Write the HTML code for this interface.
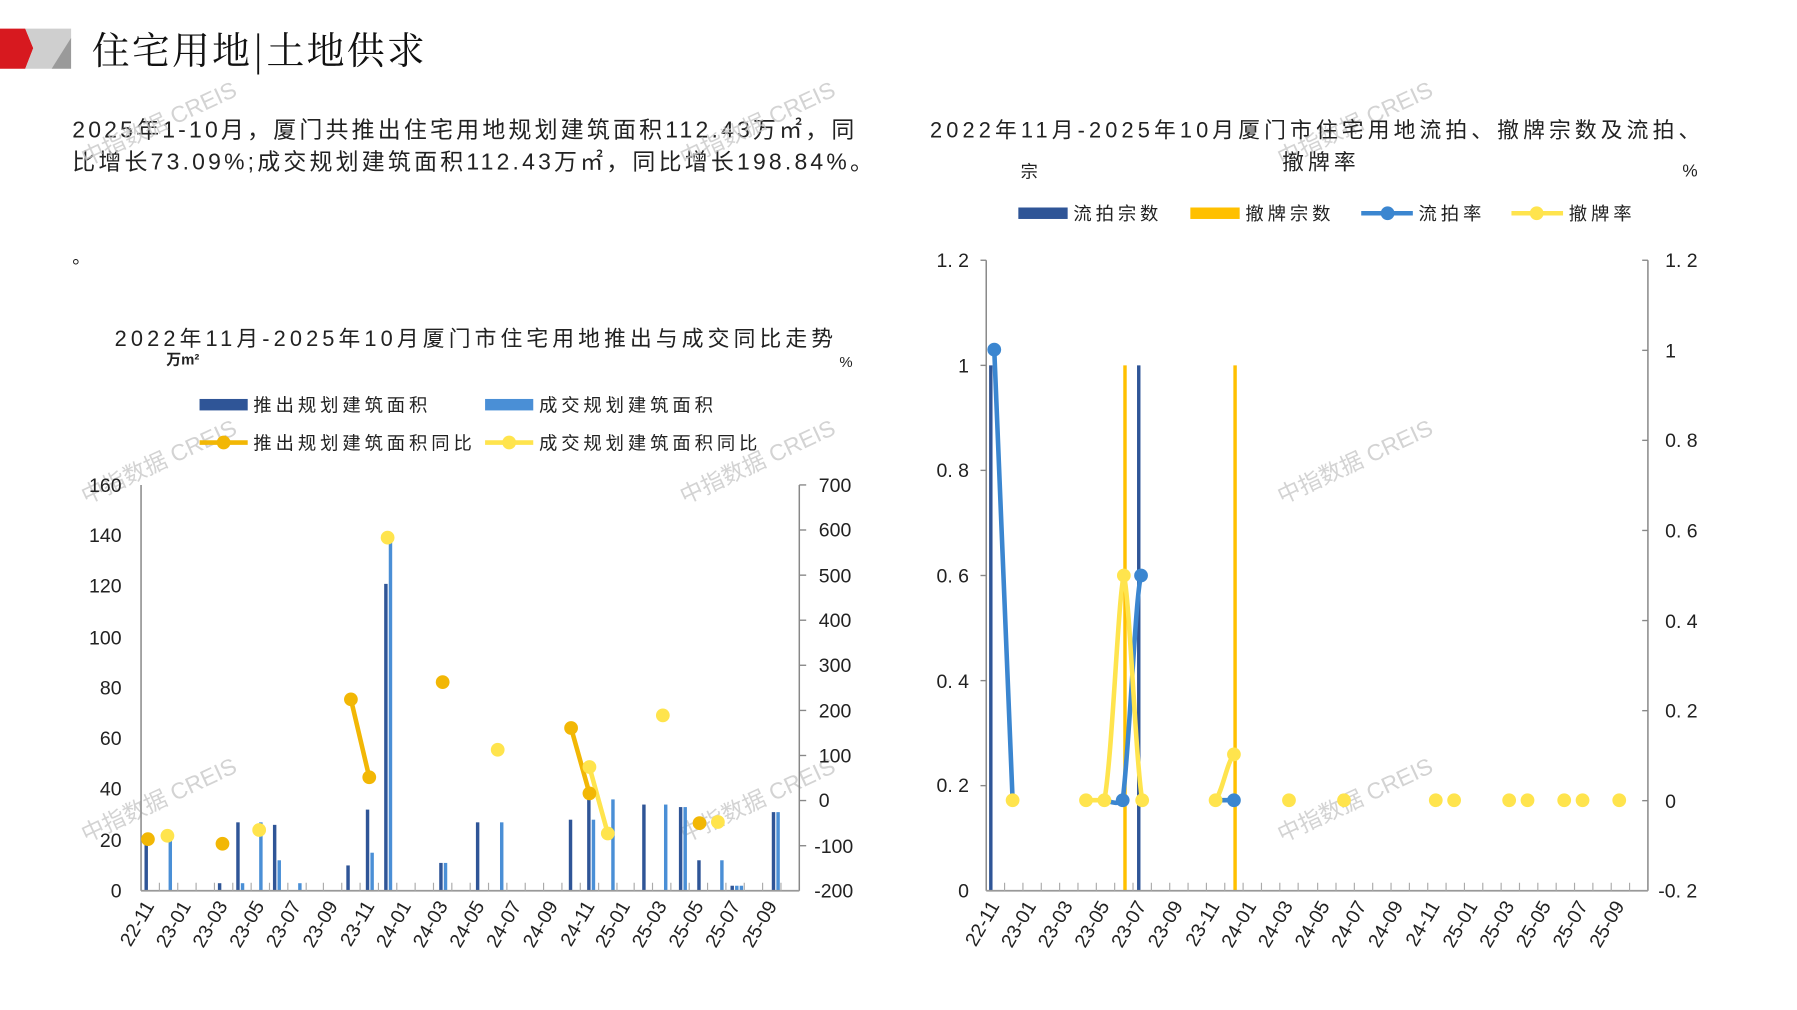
<!DOCTYPE html>
<html><head><meta charset="utf-8"><style>
html,body{margin:0;padding:0;background:#fff;}
svg{display:block;}
text{font-family:"Liberation Sans","Noto Sans CJK SC",sans-serif;}
.ls{letter-spacing:3.4px;}
</style></head><body>
<svg width="1797" height="1010" viewBox="0 0 1567 881" preserveAspectRatio="none" xmlns="http://www.w3.org/2000/svg">
<rect width="1567" height="881" fill="#fff"/>
<polygon points="0,25 22,25 29,42 22,60 0,60" fill="#D7191F"/>
<polygon points="22,25 62,25 62,35 45,60 22,60 29,42" fill="#CFCFCF"/>
<polygon points="62,33 62,60 45,60" fill="#9A9A9A"/>
<text x="80" y="56" font-size="33" fill="#111" style="font-family:'Noto Serif CJK SC',serif;letter-spacing:2px">住宅用地|土地供求</text>
<text x="63" y="120" font-size="20" fill="#222" style="letter-spacing:2.8px">2025年1-10月，厦门共推出住宅用地规划建筑面积112.43万㎡，同</text>
<text x="63" y="148" font-size="20" fill="#222" style="letter-spacing:2.8px">比增长73.09%;成交规划建筑面积112.43万㎡，同比增长198.84%。</text>
<text x="63" y="230" font-size="16" fill="#222">。</text>

<g fill="#c8c8c8" font-size="20" opacity="0.8">
<text transform="translate(75,145) rotate(-25)">中指数据 CREIS</text>
<text transform="translate(597,145) rotate(-25)">中指数据 CREIS</text>
<text transform="translate(1118,145) rotate(-25)">中指数据 CREIS</text>
<text transform="translate(75,440) rotate(-25)">中指数据 CREIS</text>
<text transform="translate(597,440) rotate(-25)">中指数据 CREIS</text>
<text transform="translate(1118,440) rotate(-25)">中指数据 CREIS</text>
<text transform="translate(75,735) rotate(-25)">中指数据 CREIS</text>
<text transform="translate(597,735) rotate(-25)">中指数据 CREIS</text>
<text transform="translate(1118,735) rotate(-25)">中指数据 CREIS</text>
</g>

<text x="415" y="302" font-size="19" fill="#222" text-anchor="middle" style="letter-spacing:3.6px">2022年11月-2025年10月厦门市住宅用地推出与成交同比走势</text>
<text x="145" y="318" font-size="13" fill="#222" font-weight="bold">万m²</text>
<text x="732" y="320" font-size="13" fill="#222">%</text>
<rect x="174" y="348" width="42" height="10" fill="#2F5597"/>
<text x="221" y="359" font-size="16" fill="#222" class="ls">推出规划建筑面积</text>
<rect x="423" y="348" width="42" height="10" fill="#4A8FD6"/>
<text x="470" y="359" font-size="16" fill="#222" class="ls">成交规划建筑面积</text>
<line x1="174" y1="386" x2="216" y2="386" stroke="#F2B705" stroke-width="4"/><circle cx="195" cy="386" r="6" fill="#F2B705"/>
<text x="221" y="392" font-size="16" fill="#222" class="ls">推出规划建筑面积同比</text>
<line x1="423" y1="386" x2="465" y2="386" stroke="#FFE44D" stroke-width="4"/><circle cx="444" cy="386" r="6" fill="#FFE44D"/>
<text x="470" y="392" font-size="16" fill="#222" class="ls">成交规划建筑面积同比</text>

<g font-size="17" fill="#222" text-anchor="end">
<text x="106" y="429">160</text><text x="106" y="473">140</text><text x="106" y="517">120</text><text x="106" y="562">100</text><text x="106" y="606">80</text><text x="106" y="650">60</text><text x="106" y="694">40</text><text x="106" y="739">20</text><text x="106" y="783">0</text>
</g>
<g font-size="17" fill="#222">
<text x="714" y="429">700</text><text x="714" y="468">600</text><text x="714" y="508">500</text><text x="714" y="547">400</text><text x="714" y="586">300</text><text x="714" y="626">200</text><text x="714" y="665">100</text><text x="714" y="704">0</text><text x="710" y="744">-100</text><text x="710" y="783">-200</text>
</g>
<line x1="123" y1="423" x2="123" y2="777" stroke="#888" stroke-width="1.3"/>
<line x1="697" y1="423" x2="697" y2="777" stroke="#888" stroke-width="1.3"/>
<g stroke="#888" stroke-width="1.2">
<line x1="697" y1="423" x2="703" y2="423"/><line x1="697" y1="462.3" x2="703" y2="462.3"/><line x1="697" y1="501.7" x2="703" y2="501.7"/><line x1="697" y1="541" x2="703" y2="541"/><line x1="697" y1="580.3" x2="703" y2="580.3"/><line x1="697" y1="619.7" x2="703" y2="619.7"/><line x1="697" y1="659" x2="703" y2="659"/><line x1="697" y1="698.3" x2="703" y2="698.3"/><line x1="697" y1="737.7" x2="703" y2="737.7"/>
</g>
<g fill="#2F5597">
<rect x="126" y="732.7" width="3" height="44.3"/><rect x="190" y="770.4" width="3" height="6.6"/><rect x="206" y="717.3" width="3" height="59.7"/><rect x="238" y="719.5" width="3" height="57.5"/><rect x="302" y="754.9" width="3" height="22.1"/><rect x="319" y="706.2" width="3" height="70.8"/><rect x="335" y="509.3" width="3" height="267.7"/><rect x="383" y="752.7" width="3" height="24.3"/><rect x="415" y="717.3" width="3" height="59.7"/><rect x="496" y="715" width="3" height="62"/><rect x="512" y="695" width="3" height="82"/><rect x="560" y="701.8" width="3" height="75.2"/><rect x="592" y="704" width="3" height="73"/><rect x="608" y="750.4" width="3" height="26.6"/><rect x="637" y="772.6" width="3" height="4.4"/><rect x="673" y="708.4" width="3" height="68.6"/>
</g>
<g fill="#4A8FD6">
<rect x="147" y="732.7" width="3" height="44.3"/><rect x="210" y="770.4" width="3" height="6.6"/><rect x="226" y="717.3" width="3" height="59.7"/><rect x="242" y="750.4" width="3" height="26.6"/><rect x="260" y="770.4" width="3" height="6.6"/><rect x="323" y="743.8" width="3" height="33.2"/><rect x="339" y="471.7" width="3" height="305.3"/><rect x="387" y="752.7" width="3" height="24.3"/><rect x="436" y="717.3" width="3" height="59.7"/><rect x="516" y="715" width="3" height="62"/><rect x="533" y="697.3" width="3" height="79.7"/><rect x="579" y="701.8" width="3" height="75.2"/><rect x="596" y="704" width="3" height="73"/><rect x="628" y="750.4" width="3" height="26.6"/><rect x="641" y="772.6" width="3" height="4.4"/><rect x="645" y="772.6" width="3" height="4.4"/><rect x="677" y="708.4" width="3" height="68.6"/>
</g>
<line x1="123" y1="777" x2="697" y2="777" stroke="#999" stroke-width="1.5"/>
<g stroke="#aaa" stroke-width="1">
<line x1="139" y1="770" x2="139" y2="777"/><line x1="155" y1="770" x2="155" y2="777"/><line x1="171" y1="770" x2="171" y2="777"/><line x1="187" y1="770" x2="187" y2="777"/><line x1="203" y1="770" x2="203" y2="777"/><line x1="219" y1="770" x2="219" y2="777"/><line x1="235" y1="770" x2="235" y2="777"/><line x1="251" y1="770" x2="251" y2="777"/><line x1="267" y1="770" x2="267" y2="777"/><line x1="282" y1="770" x2="282" y2="777"/><line x1="298" y1="770" x2="298" y2="777"/><line x1="314" y1="770" x2="314" y2="777"/><line x1="330" y1="770" x2="330" y2="777"/><line x1="346" y1="770" x2="346" y2="777"/><line x1="362" y1="770" x2="362" y2="777"/><line x1="378" y1="770" x2="378" y2="777"/><line x1="394" y1="770" x2="394" y2="777"/><line x1="410" y1="770" x2="410" y2="777"/><line x1="426" y1="770" x2="426" y2="777"/><line x1="442" y1="770" x2="442" y2="777"/><line x1="458" y1="770" x2="458" y2="777"/><line x1="474" y1="770" x2="474" y2="777"/><line x1="490" y1="770" x2="490" y2="777"/><line x1="506" y1="770" x2="506" y2="777"/><line x1="522" y1="770" x2="522" y2="777"/><line x1="538" y1="770" x2="538" y2="777"/><line x1="553" y1="770" x2="553" y2="777"/><line x1="569" y1="770" x2="569" y2="777"/><line x1="585" y1="770" x2="585" y2="777"/><line x1="601" y1="770" x2="601" y2="777"/><line x1="617" y1="770" x2="617" y2="777"/><line x1="633" y1="770" x2="633" y2="777"/><line x1="649" y1="770" x2="649" y2="777"/><line x1="665" y1="770" x2="665" y2="777"/><line x1="681" y1="770" x2="681" y2="777"/>
</g>
<g stroke-linecap="round">
<line x1="306" y1="610" x2="322" y2="678" stroke="#F2B705" stroke-width="4"/>
<line x1="498" y1="635" x2="514" y2="692" stroke="#F2B705" stroke-width="4"/>
<line x1="514" y1="669" x2="530" y2="727" stroke="#FFE44D" stroke-width="4"/>
</g>
<g fill="#F2B705">
<circle cx="129" cy="732" r="6"/><circle cx="194" cy="736" r="6"/><circle cx="306" cy="610" r="6"/><circle cx="322" cy="678" r="6"/><circle cx="386" cy="595" r="6"/><circle cx="498" cy="635" r="6"/><circle cx="514" cy="692" r="6"/><circle cx="610" cy="718" r="6"/>
</g>
<g fill="#FFE44D">
<circle cx="146" cy="729" r="6"/><circle cx="226" cy="724" r="6"/><circle cx="338" cy="469" r="6"/><circle cx="434" cy="654" r="6"/><circle cx="514" cy="669" r="6"/><circle cx="530" cy="727" r="6"/><circle cx="578" cy="624" r="6"/><circle cx="626" cy="717" r="6"/>
</g>
<g font-size="17" fill="#222" text-anchor="end">
<text transform="translate(135,790) rotate(-60)">22-11</text>
<text transform="translate(167,790) rotate(-60)">23-01</text>
<text transform="translate(199,790) rotate(-60)">23-03</text>
<text transform="translate(231,790) rotate(-60)">23-05</text>
<text transform="translate(263,790) rotate(-60)">23-07</text>
<text transform="translate(295,790) rotate(-60)">23-09</text>
<text transform="translate(327,790) rotate(-60)">23-11</text>
<text transform="translate(359,790) rotate(-60)">24-01</text>
<text transform="translate(391,790) rotate(-60)">24-03</text>
<text transform="translate(423,790) rotate(-60)">24-05</text>
<text transform="translate(455,790) rotate(-60)">24-07</text>
<text transform="translate(487,790) rotate(-60)">24-09</text>
<text transform="translate(519,790) rotate(-60)">24-11</text>
<text transform="translate(550,790) rotate(-60)">25-01</text>
<text transform="translate(582,790) rotate(-60)">25-03</text>
<text transform="translate(614,790) rotate(-60)">25-05</text>
<text transform="translate(646,790) rotate(-60)">25-07</text>
<text transform="translate(678,790) rotate(-60)">25-09</text>
</g>

<text x="811" y="120" font-size="19" fill="#222" style="letter-spacing:3.6px">2022年11月-2025年10月厦门市住宅用地流拍、撤牌宗数及流拍、</text>
<text x="1118" y="148" font-size="19" fill="#222" style="letter-spacing:3.6px">撤牌率</text>
<text x="890" y="155" font-size="15" fill="#222">宗</text>
<text x="1467" y="154" font-size="15" fill="#222">%</text>
<rect x="888" y="181" width="43" height="10" fill="#2F5597"/>
<text x="936" y="192" font-size="16" fill="#222" class="ls">流拍宗数</text>
<rect x="1038" y="181" width="43" height="10" fill="#FFC000"/>
<text x="1086" y="192" font-size="16" fill="#222" class="ls">撤牌宗数</text>
<line x1="1187" y1="186" x2="1232" y2="186" stroke="#3B86D0" stroke-width="4"/><circle cx="1210" cy="186" r="6" fill="#3B86D0"/>
<text x="1237" y="192" font-size="16" fill="#222" class="ls">流拍率</text>
<line x1="1318" y1="186" x2="1363" y2="186" stroke="#FFE44D" stroke-width="4"/><circle cx="1340" cy="186" r="6" fill="#FFE44D"/>
<text x="1368" y="192" font-size="16" fill="#222" class="ls">撤牌率</text>

<g font-size="17" fill="#222" text-anchor="end">
<text x="845" y="233">1. 2</text><text x="845" y="325">1</text><text x="845" y="416">0. 8</text><text x="845" y="508">0. 6</text><text x="845" y="600">0. 4</text><text x="845" y="691">0. 2</text><text x="845" y="783">0</text>
</g>
<g font-size="17" fill="#222">
<text x="1452" y="233">1. 2</text><text x="1452" y="312">1</text><text x="1452" y="390">0. 8</text><text x="1452" y="469">0. 6</text><text x="1452" y="548">0. 4</text><text x="1452" y="626">0. 2</text><text x="1452" y="705">0</text><text x="1446" y="783">-0. 2</text>
</g>
<line x1="860" y1="227" x2="860" y2="777" stroke="#888" stroke-width="1.3"/>
<line x1="1437" y1="227" x2="1437" y2="777" stroke="#888" stroke-width="1.3"/>
<g stroke="#888" stroke-width="1.2">
<line x1="855" y1="227" x2="860" y2="227"/><line x1="855" y1="318.7" x2="860" y2="318.7"/><line x1="855" y1="410.3" x2="860" y2="410.3"/><line x1="855" y1="502" x2="860" y2="502"/><line x1="855" y1="593.7" x2="860" y2="593.7"/><line x1="855" y1="685.3" x2="860" y2="685.3"/>
<line x1="1432" y1="227" x2="1437" y2="227"/><line x1="1432" y1="305.6" x2="1437" y2="305.6"/><line x1="1432" y1="384.1" x2="1437" y2="384.1"/><line x1="1432" y1="462.7" x2="1437" y2="462.7"/><line x1="1432" y1="541.3" x2="1437" y2="541.3"/><line x1="1432" y1="619.9" x2="1437" y2="619.9"/><line x1="1432" y1="698.4" x2="1437" y2="698.4"/>
</g>
<rect x="862.5" y="318.7" width="3" height="458.3" fill="#2F5597"/>
<rect x="991.5" y="318.7" width="3" height="458.3" fill="#2F5597"/>
<rect x="979.5" y="318.7" width="3" height="458.3" fill="#FFC000"/>
<rect x="1075.5" y="318.7" width="3" height="458.3" fill="#FFC000"/>
<line x1="860" y1="777" x2="1437" y2="777" stroke="#999" stroke-width="1.5"/>
<g stroke="#aaa" stroke-width="1">
<line x1="876" y1="770" x2="876" y2="777"/><line x1="892" y1="770" x2="892" y2="777"/><line x1="908" y1="770" x2="908" y2="777"/><line x1="924" y1="770" x2="924" y2="777"/><line x1="940" y1="770" x2="940" y2="777"/><line x1="956" y1="770" x2="956" y2="777"/><line x1="972" y1="770" x2="972" y2="777"/><line x1="988" y1="770" x2="988" y2="777"/><line x1="1004" y1="770" x2="1004" y2="777"/><line x1="1020" y1="770" x2="1020" y2="777"/><line x1="1036" y1="770" x2="1036" y2="777"/><line x1="1052" y1="770" x2="1052" y2="777"/><line x1="1068" y1="770" x2="1068" y2="777"/><line x1="1084" y1="770" x2="1084" y2="777"/><line x1="1100" y1="770" x2="1100" y2="777"/><line x1="1116" y1="770" x2="1116" y2="777"/><line x1="1132" y1="770" x2="1132" y2="777"/><line x1="1149" y1="770" x2="1149" y2="777"/><line x1="1165" y1="770" x2="1165" y2="777"/><line x1="1181" y1="770" x2="1181" y2="777"/><line x1="1197" y1="770" x2="1197" y2="777"/><line x1="1213" y1="770" x2="1213" y2="777"/><line x1="1229" y1="770" x2="1229" y2="777"/><line x1="1245" y1="770" x2="1245" y2="777"/><line x1="1261" y1="770" x2="1261" y2="777"/><line x1="1277" y1="770" x2="1277" y2="777"/><line x1="1293" y1="770" x2="1293" y2="777"/><line x1="1309" y1="770" x2="1309" y2="777"/><line x1="1325" y1="770" x2="1325" y2="777"/><line x1="1341" y1="770" x2="1341" y2="777"/><line x1="1357" y1="770" x2="1357" y2="777"/><line x1="1373" y1="770" x2="1373" y2="777"/><line x1="1389" y1="770" x2="1389" y2="777"/><line x1="1405" y1="770" x2="1405" y2="777"/><line x1="1421" y1="770" x2="1421" y2="777"/>
</g>
<g fill="none" stroke-width="4" stroke-linejoin="round" stroke-linecap="round">
<path d="M867,305 L883,698" stroke="#3B86D0"/>
<path d="M963,698 C970,700 975,702 979,698 C985,650 990,520 995,502" stroke="#3B86D0"/>
<path d="M1060,698 L1076,698" stroke="#3B86D0"/>
<path d="M947,698 L963,698 C970,660 975,520 980,502 C985,520 990,660 996,698" stroke="#FFE44D"/>
<path d="M1060,698 C1066,690 1070,665 1076,658" stroke="#FFE44D"/>
</g>
<g fill="#3B86D0">
<circle cx="867" cy="305" r="6"/><circle cx="979" cy="698" r="6"/><circle cx="995" cy="502" r="6"/><circle cx="1076" cy="698" r="6"/>
</g>
<g fill="#FFE44D">
<circle cx="883" cy="698" r="6"/><circle cx="947" cy="698" r="6"/><circle cx="963" cy="698" r="6"/><circle cx="980" cy="502" r="6"/><circle cx="996" cy="698" r="6"/><circle cx="1060" cy="698" r="6"/><circle cx="1076" cy="658" r="6"/><circle cx="1124" cy="698" r="6"/><circle cx="1172" cy="698" r="6"/><circle cx="1252" cy="698" r="6"/><circle cx="1268" cy="698" r="6"/><circle cx="1316" cy="698" r="6"/><circle cx="1332" cy="698" r="6"/><circle cx="1364" cy="698" r="6"/><circle cx="1380" cy="698" r="6"/><circle cx="1412" cy="698" r="6"/>
</g>
<g font-size="17" fill="#222" text-anchor="end">
<text transform="translate(872,790) rotate(-60)">22-11</text>
<text transform="translate(904,790) rotate(-60)">23-01</text>
<text transform="translate(936,790) rotate(-60)">23-03</text>
<text transform="translate(968,790) rotate(-60)">23-05</text>
<text transform="translate(1000,790) rotate(-60)">23-07</text>
<text transform="translate(1032,790) rotate(-60)">23-09</text>
<text transform="translate(1064,790) rotate(-60)">23-11</text>
<text transform="translate(1096,790) rotate(-60)">24-01</text>
<text transform="translate(1128,790) rotate(-60)">24-03</text>
<text transform="translate(1160,790) rotate(-60)">24-05</text>
<text transform="translate(1192,790) rotate(-60)">24-07</text>
<text transform="translate(1224,790) rotate(-60)">24-09</text>
<text transform="translate(1256,790) rotate(-60)">24-11</text>
<text transform="translate(1289,790) rotate(-60)">25-01</text>
<text transform="translate(1321,790) rotate(-60)">25-03</text>
<text transform="translate(1353,790) rotate(-60)">25-05</text>
<text transform="translate(1385,790) rotate(-60)">25-07</text>
<text transform="translate(1417,790) rotate(-60)">25-09</text>
</g>
</svg>
</body></html>
